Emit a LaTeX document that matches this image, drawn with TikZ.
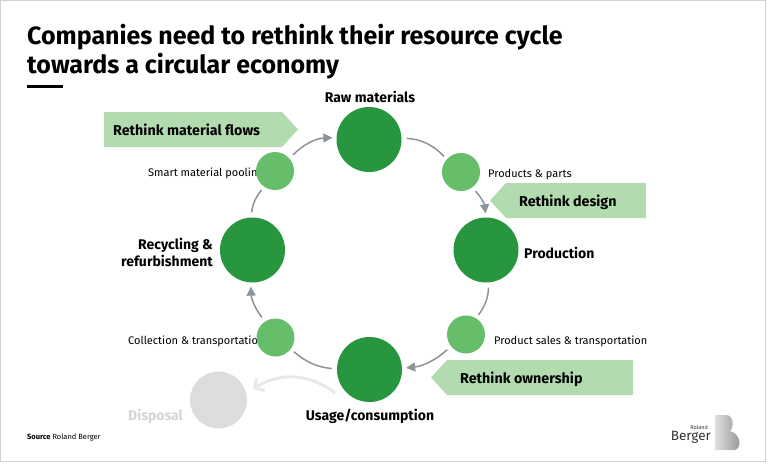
\documentclass[tikz,border=0pt]{standalone}
\usepackage{fontspec}
\setmainfont{Fira Sans}
\usetikzlibrary{arrows.meta}

\definecolor{rbdark}{HTML}{27963E}
\definecolor{rblight}{HTML}{66BE6A}
\definecolor{rbband}{HTML}{B3DBB0}
\definecolor{rbgrey}{HTML}{8C939A}
\definecolor{rbpale}{HTML}{DDDDDD}

\tikzset{
  big/.style={circle, fill=rbdark, minimum size=65pt, inner sep=0pt},
  small/.style={circle, fill=rblight, minimum size=38pt, inner sep=0pt},
  bigtxt/.style={font=\fontsize{14}{17}\selectfont\bfseries, inner sep=0pt},
  smalltxt/.style={font=\fontsize{11}{12}\selectfont, inner sep=0pt, anchor=base west},
  bandtxt/.style={font=\fontsize{14.3}{16}\selectfont\bfseries, inner sep=0pt, anchor=base west},
  flow/.style={draw=rbgrey, line width=1.5pt, shorten <=5pt, shorten >=4pt},
  flowtip/.style={flow, -{Triangle[length=9pt,width=9pt]}},
}

\begin{document}
\begin{tikzpicture}[x=1pt, y=-1pt]
\useasboundingbox (0,0) rectangle (768,464);
\draw[gray!35, line width=1pt] (0.5,0.5) rectangle (765.5,461.5);

% title
\node[font=\fontsize{25}{29}\selectfont\bfseries, anchor=base west, inner sep=0pt] (title1) at (27,44) {Companies need to rethink their resource cycle};
\node[font=\fontsize{25}{29}\selectfont\bfseries, anchor=base west, inner sep=0pt] (title2) at (27,73) {towards a circular economy};
\draw[line width=3pt] (27,86.5) -- (63,86.5);

% banners
\fill[rbband] (104,112) -- (282,112) -- (298,129.5) -- (282,147) -- (104,147) -- cycle;
\fill[rbband] (490,200.5) -- (506,183) -- (646,183) -- (646,218) -- (506,218) -- cycle;
\fill[rbband] (431,377.5) -- (447,360) -- (633,360) -- (633,395) -- (447,395) -- cycle;
\node[bandtxt] (flows) at (113,135) {Rethink material flows};
\node[bandtxt] (design) at (519,206) {Rethink design};
\node[bandtxt] (owner) at (460,383) {Rethink ownership};

% small labels (partly under the circles)
\node[smalltxt] (pooltxt) at (148,176) {Smart material pooling};
\node[smalltxt] (partstxt) at (488,177) {Products \& parts};
\node[smalltxt] (salestxt) at (494,344) {Product sales \& transportation};
\node[smalltxt] (colltxt) at (128,344) {Collection \& transportation};

% circles
\node[big] (raw) at (369,139.5) {};
\node[big] (prod) at (486,250) {};
\node[big] (usage) at (369.5,369.5) {};
\node[big] (recyc) at (252.5,250) {};
\node[small] (pool) at (275,171) {};
\node[small] (parts) at (461,172) {};
\node[small] (sales) at (466,334.5) {};
\node[small] (coll) at (275.5,337.5) {};
\node[circle, fill=rbpale, minimum size=57pt, inner sep=0pt] (disp) at (218.5,400) {};

% big labels
\node[bigtxt, anchor=base] (rawlbl) at (370,102) {Raw materials};
\node[bigtxt, anchor=base west] (prodlbl) at (524,258) {Production};
\node[bigtxt, anchor=base] (usagelbl) at (370,420) {Usage/consumption};
\node[bigtxt, anchor=east, align=right] (recyclbl) at (213,252) {Recycling \&\\refurbishment};
\node[bigtxt, anchor=base west, text=rbpale!90!gray] (displbl) at (128,420) {Disposal};

% cycle
\draw[flow] (raw) to[bend left=22] (parts);
\draw[flowtip] (parts) to[bend left=18] (prod);
\draw[flow] (prod) to[bend left=18] (sales);
\draw[flowtip] (sales) to[bend left=18] (usage);
\draw[flow] (usage) to[bend left=18] (coll);
\draw[flowtip] (coll) to[bend left=18] (recyc);
\draw[flow] (recyc) to[bend left=18] (pool);
\draw[flowtip] (pool) to[bend left=22] (raw);

% to disposal
\draw[draw=gray!18, line width=3pt, -{Straight Barb[length=7pt,width=15pt]}] (335,393) to[bend right=35] (253,389);

% source and logo
\node[font=\fontsize{7.5}{9}\selectfont, anchor=base west, inner sep=0pt] (source) at (27,439) {\textbf{Source} Roland Berger};
\node[font=\fontsize{5.5}{6}\selectfont, anchor=base east, inner sep=0pt, text=black!80] (roland) at (708,429) {Roland};
\node[font=\fontsize{13.5}{14}\selectfont, anchor=base east, inner sep=0pt, text=black!80] (berger) at (711,440) {Berger};
\shade[left color=gray!25, right color=gray!85] (715,415) -- (727,415) .. controls (734,416) and (734,428) .. (730,431) .. controls (741,434) and (742,448) .. (735,450) -- (715,450) -- cycle;
\end{tikzpicture}
\end{document}
